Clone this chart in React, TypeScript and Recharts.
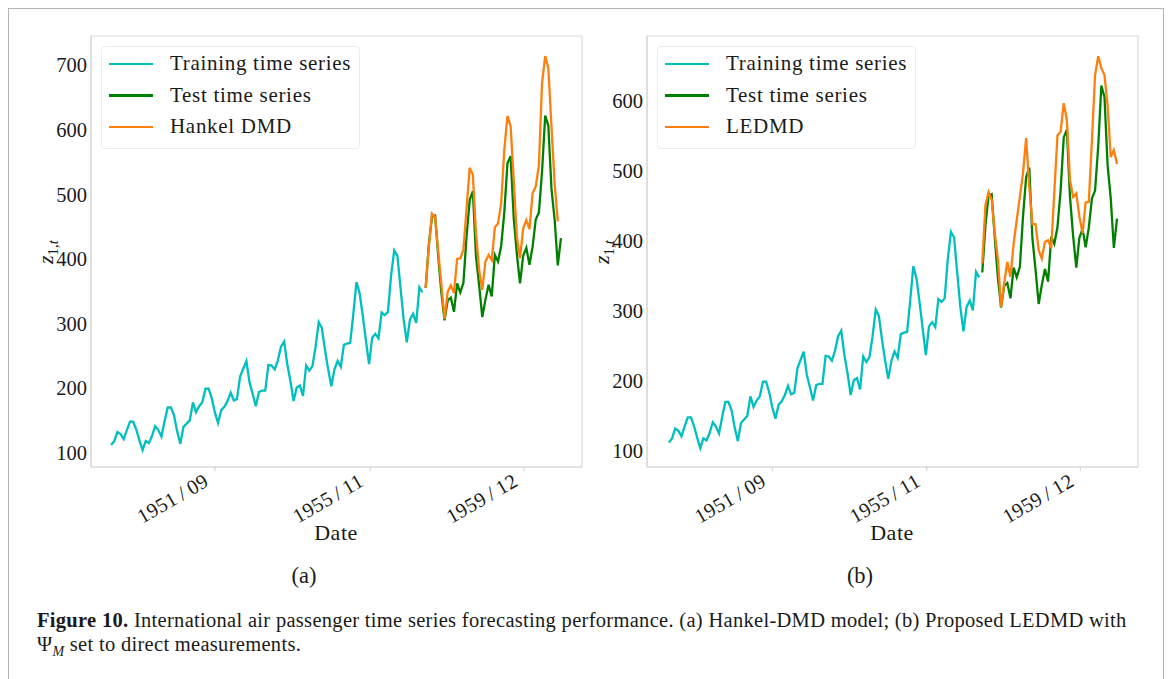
import { LineChart, Line, XAxis, YAxis, Legend, ReferenceArea } from "recharts";

// monthly international airline passengers (thousands), 1949/01 – 1960/12
const airPassengers = [
  112, 118, 132, 129, 121, 135, 148, 148, 136, 119, 104, 118,
  115, 126, 141, 135, 125, 149, 170, 170, 158, 133, 114, 140,
  145, 150, 178, 163, 172, 178, 199, 199, 184, 162, 146, 166,
  171, 180, 193, 181, 183, 218, 230, 242, 209, 191, 172, 194,
  196, 196, 236, 235, 229, 243, 264, 272, 237, 211, 180, 201,
  204, 188, 235, 227, 234, 264, 302, 293, 259, 229, 203, 229,
  242, 233, 267, 269, 270, 315, 364, 347, 312, 274, 237, 278,
  284, 277, 317, 313, 318, 374, 413, 405, 355, 306, 271, 306,
  315, 301, 356, 348, 355, 422, 465, 467, 404, 347, 305, 336,
  340, 318, 362, 348, 363, 435, 491, 505, 404, 359, 310, 337,
  360, 342, 406, 396, 420, 472, 548, 559, 463, 407, 362, 405,
  417, 391, 419, 461, 472, 535, 622, 606, 508, 461, 390, 432,
];

// last index of the training part; test and forecasts start right after it
const TRAIN_END = 99;
const FORECAST_START = 100;

// (a) Hankel DMD forecast
const hankelDmd = [
  355, 418, 470, 465, 411, 360, 307, 349, 359, 347,
  400, 401, 414, 478, 541, 530, 440, 383, 352, 396,
  406, 398, 449, 455, 486, 569, 621, 606, 522, 434,
  401, 447, 460, 446, 502, 512, 545, 672, 714, 695,
  605, 517, 458,
];

// (b) LEDMD forecast
const ledmd = [
  368, 451, 470, 459, 411, 373, 306, 340, 370, 349,
  396, 430, 463, 497, 547, 478, 424, 424, 387, 375,
  399, 401, 390, 470, 551, 556, 597, 573, 487, 463,
  468, 435, 411, 455, 456, 544, 637, 664, 647, 637,
  594, 520, 530, 510,
];

const dateTicks = [33, 82.3, 131.3];
const dateTickLabels = ["1951\u2009/\u200909", "1955\u2009/\u200911", "1959\u2009/\u200912"];
const yTicksA = [100, 200, 300, 400, 500, 600, 700];
const yTicksB = [100, 200, 300, 400, 500, 600];

const FONT = "'Liberation Serif', 'DejaVu Serif', serif";
const FRAME = "#d9d9d9";
const INK = "#1a1a1a";
const COLORS = { train: "#00bfbf", test: "#008000", model: "#ff7f0e" };

function buildRows(forecast: number[]) {
  return airPassengers.map((v, t) => {
    const k = t - FORECAST_START;
    return {
      t,
      train: t <= TRAIN_END ? v : null,
      test: t > TRAIN_END ? v : null,
      model: k >= 0 && k < forecast.length ? forecast[k] : null,
    };
  });
}

const DateTick = (props: any) => {
  const { x, y, index } = props;
  const px = x - 5;
  const py = y + 12;
  return (
    <text
      x={px}
      y={py}
      transform={`rotate(-30, ${px}, ${py})`}
      textAnchor="end"
      fontFamily={FONT}
      fontSize={20.5}
      letterSpacing={0.3}
      fill={INK}
    >
      {dateTickLabels[index]}
    </text>
  );
};

const LegendBox = ({ modelLabel }: { modelLabel: string }) => {
  const items = [
    { label: "Training time series", color: COLORS.train },
    { label: "Test time series", color: COLORS.test },
    { label: modelLabel, color: COLORS.model },
  ];
  return (
    <div
      style={{
        border: "1px solid #ececec",
        borderRadius: 4,
        background: "#fff",
        padding: "1px 8px 5px 7px",
        fontFamily: FONT,
        fontSize: 21,
        letterSpacing: 0.7,
        color: INK,
      }}
    >
      {items.map((it) => (
        <div key={it.label} style={{ display: "flex", alignItems: "center", height: 31.5 }}>
          <span style={{ width: 44, height: 2.5, background: it.color, marginRight: 17 }} />
          <span style={{ whiteSpace: "nowrap" }}>{it.label}</span>
        </div>
      ))}
    </div>
  );
};

interface PanelProps {
  left: number;
  forecast: number[];
  modelLabel: string;
  xDomain: [number, number];
  yDomain: [number, number];
  yTicks: number[];
  tag: string;
}

function Panel({ left, forecast, modelLabel, xDomain, yDomain, yTicks, tag }: PanelProps) {
  const rows = buildRows(forecast);
  return (
    <div style={{ position: "absolute", left, top: 0 }}>
      <LineChart width={602} height={600} data={rows} margin={{ top: 36, right: 20, bottom: 53, left: 0 }}>
        <ReferenceArea
          x1={xDomain[0]}
          x2={xDomain[1]}
          y1={yDomain[0]}
          y2={yDomain[1]}
          fill="none"
          stroke={FRAME}
          strokeWidth={1.2}
          ifOverflow="visible"
        />
        <XAxis
          type="number"
          dataKey="t"
          domain={xDomain}
          allowDataOverflow
          ticks={dateTicks}
          interval={0}
          height={80}
          tickSize={4}
          axisLine={{ stroke: FRAME, strokeWidth: 1.2 }}
          tickLine={{ stroke: "#cfcfcf" }}
          tick={<DateTick />}
        />
        <YAxis
          type="number"
          domain={yDomain}
          allowDataOverflow
          ticks={yTicks}
          width={91}
          tickSize={0}
          tickMargin={4}
          axisLine={{ stroke: FRAME, strokeWidth: 1.2 }}
          tickLine={false}
          tick={{ fontFamily: FONT, fontSize: 20.5, fill: INK }}
        />
        <Legend
          layout="horizontal"
          verticalAlign="middle"
          align="center"
          wrapperStyle={{ top: 46, left: 101, width: "auto" }}
          content={() => <LegendBox modelLabel={modelLabel} />}
        />
        <Line dataKey="train" stroke={COLORS.train} strokeWidth={2.3} dot={false} isAnimationActive={false} />
        <Line dataKey="test" stroke={COLORS.test} strokeWidth={2.3} dot={false} isAnimationActive={false} />
        <Line dataKey="model" stroke={COLORS.model} strokeWidth={2.3} dot={false} isAnimationActive={false} />
      </LineChart>
      <svg width={80} height={80} style={{ position: "absolute", left: 0, top: 212, overflow: "visible" }}>
        <text transform="translate(53, 40) rotate(-90)" textAnchor="middle" fontFamily={FONT} fontSize={22} fill={INK}>
          <tspan fontStyle="italic">z</tspan>
          <tspan fontSize={15} dy={5}>1,</tspan>
          <tspan fontSize={15} fontStyle="italic">t</tspan>
        </text>
      </svg>
      <div style={{ position: "absolute", left: 286, top: 520, width: 100, textAlign: "center", fontFamily: FONT, fontSize: 22, letterSpacing: 0.5, color: INK }}>
        Date
      </div>
      <div style={{ position: "absolute", left: 254, top: 563, width: 100, textAlign: "center", fontFamily: FONT, fontSize: 22.5, color: INK }}>
        {tag}
      </div>
    </div>
  );
}

export default function App() {
  return (
    <div style={{ position: "absolute", left: 0, top: 0, width: 1171, height: 679, overflow: "hidden", background: "#fff" }}>
      <div style={{ position: "absolute", left: 8, top: 8, width: 1154, height: 720, border: "1px solid #b4b4b4" }} />
      <Panel left={0} forecast={hankelDmd} modelLabel="Hankel DMD" xDomain={[-6.4, 149.7]} yDomain={[77.9, 745]} yTicks={yTicksA} tag="(a)" />
      <Panel left={556} forecast={ledmd} modelLabel="LEDMD" xDomain={[-7.0, 149.7]} yDomain={[77.1, 692.9]} yTicks={yTicksB} tag="(b)" />
      <div style={{ position: "absolute", left: 37, top: 608, width: 1120, fontFamily: FONT, fontSize: 20.5, letterSpacing: 0.3, lineHeight: "24px", color: INK }}>
        <b>Figure 10.</b> International air passenger time series forecasting performance. (a) Hankel-DMD model; (b) Proposed LEDMD with
        <br />
        Ψ
        <sub style={{ fontSize: 14 }}>
          <i>M</i>
        </sub>{" "}
        set to direct measurements.
      </div>
    </div>
  );
}
